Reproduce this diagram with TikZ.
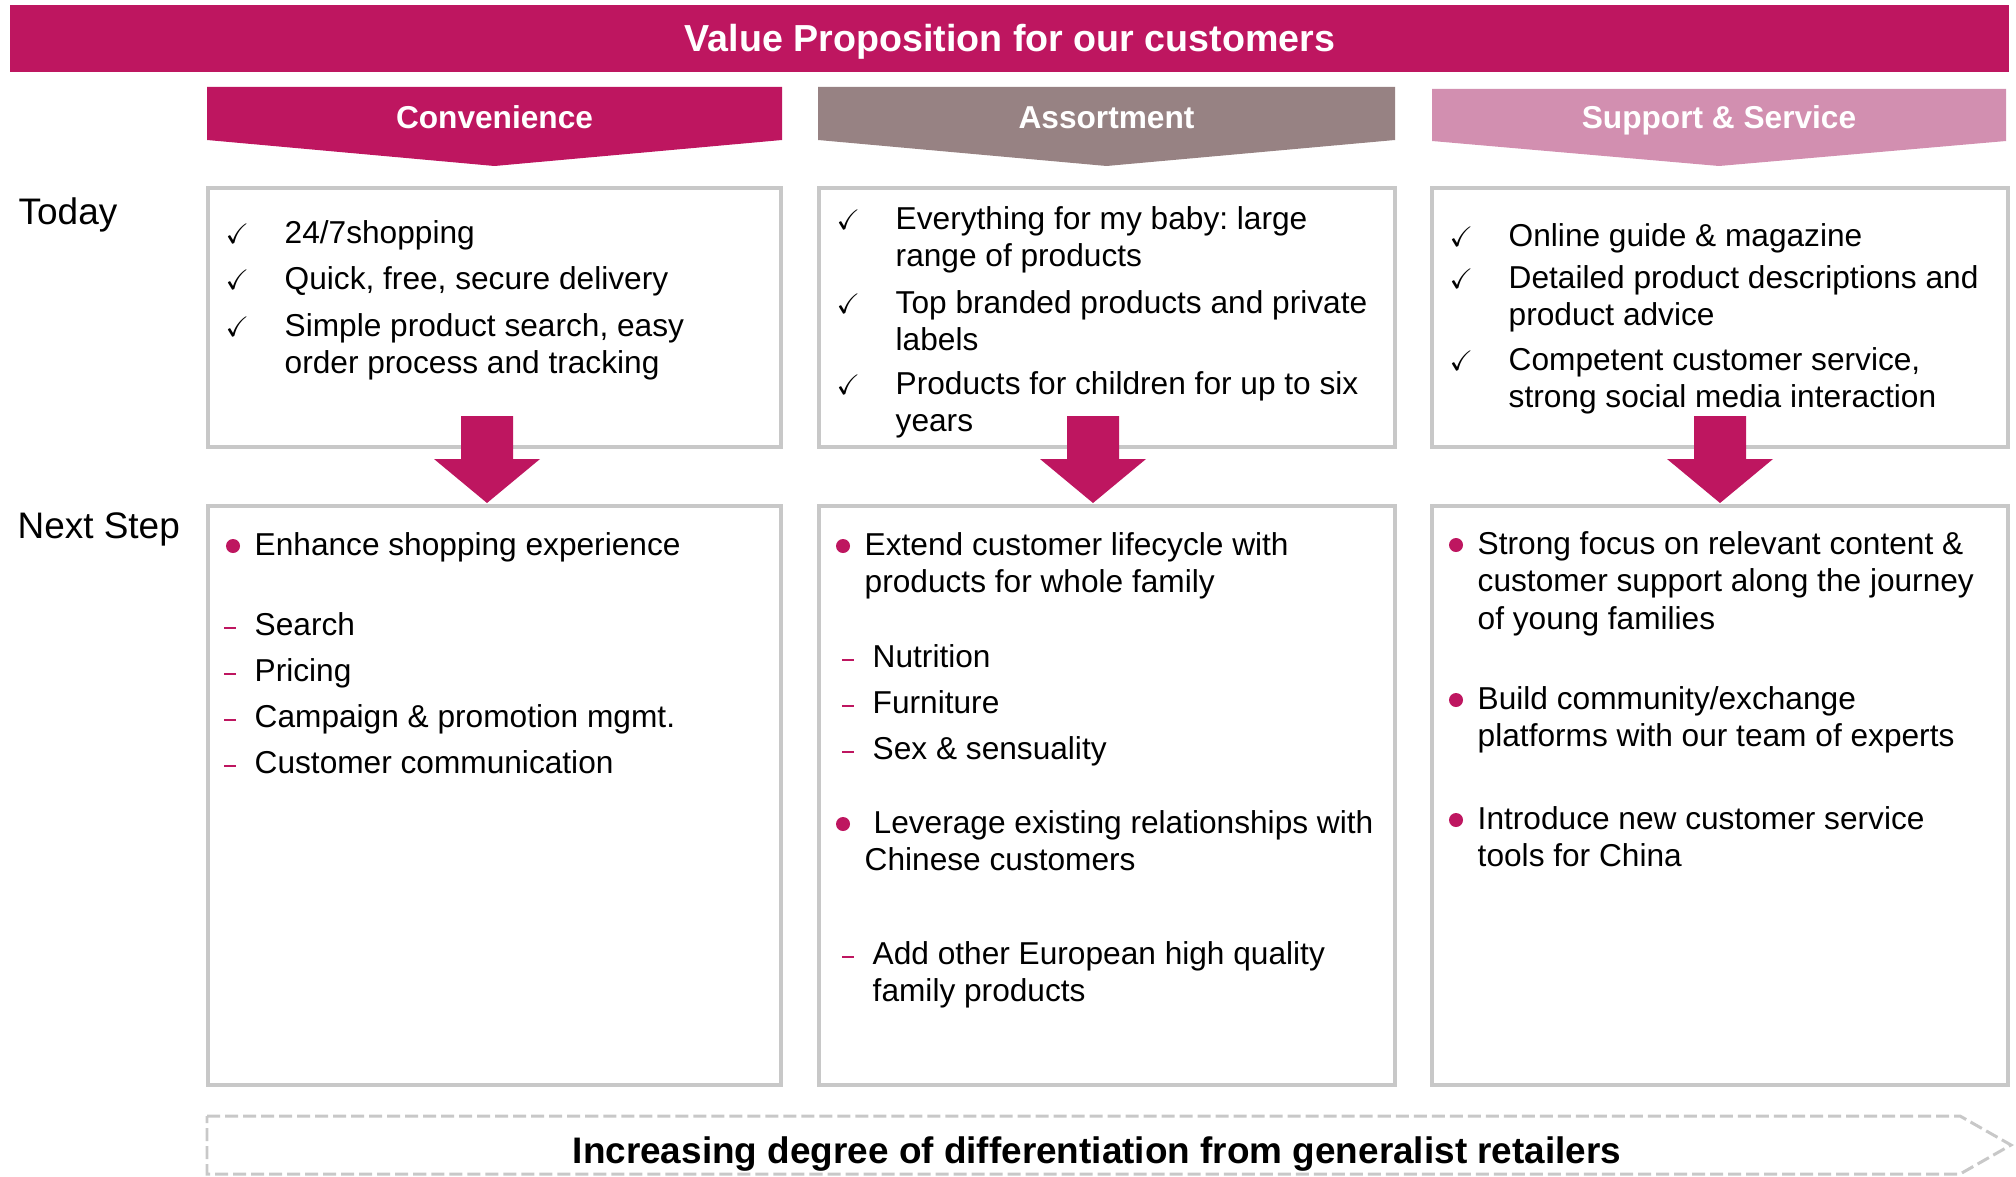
\documentclass[tikz,border=0pt]{standalone}
\usepackage{amssymb}
\usepackage{fontspec}
\setmainfont{Liberation Sans}
\frenchspacing
\usetikzlibrary{positioning}

\definecolor{mag}{RGB}{190,22,96}
\definecolor{mauve}{RGB}{151,130,131}
\definecolor{rosa}{RGB}{210,143,176}
\definecolor{frame}{RGB}{200,200,200}

\tikzset{
  panel/.style={draw=frame, line width=1.1pt},
  tabtext/.style={anchor=base, inner sep=0pt, text=white, font=\fontsize{9}{11}\bfseries\selectfont},
  item/.style={anchor=base west, inner sep=0pt, font=\fontsize{9}{10.7}\selectfont},
  chkmark/.style={anchor=base west, inner sep=0pt, font=\fontsize{8}{9}\selectfont},
  rowlabel/.style={anchor=base west, inner sep=0pt, font=\fontsize{10.5}{12}\selectfont},
}

% #1 name, #2 x of text, #3 first baseline, #4 lines
\newcommand\lines[1]{\begin{tabular}[t]{@{}l@{}}#1\end{tabular}}
\newcommand\tickitem[4]{%
  \node[chkmark] (#1c) at (#2-59,#3) {$\checkmark$};
  \node[item] (#1) at (#2,#3) {\lines{#4}};}
\newcommand\dotitem[4]{%
  \fill[mag] (#2-21,#3-9) circle (0.07cm);
  \node[item] (#1) at (#2,#3) {\lines{#4}};}
\newcommand\dashitem[4]{%
  \draw[mag, line width=0.6pt] (#2-30,#3-7) -- ++(12,0);
  \node[item] (#1) at (#2,#3) {\lines{#4}};}
\newcommand\fatarrow[1]{%
  \fill[mag] (#1-26,416) -- (#1+26,416) -- (#1+26,459) -- (#1+53,459)
    -- (#1,503) -- (#1-53,459) -- (#1-26,459) -- cycle;}

\begin{document}
\begin{tikzpicture}[x=0.01cm, y=-0.01cm]
\useasboundingbox (0,0) rectangle (2016,1176);

\fill[mag] (10,5) rectangle (2009,72);
\node[tabtext, font=\fontsize{10.7}{12}\bfseries\selectfont] (title) at (1010,52) {Value Proposition for our customers};

\fill[mag] (207,87) -- (782,87) -- (782,140) -- (494.5,166) -- (207,140) -- cycle;
\fill[mauve] (818,87) -- (1395,87) -- (1395,140) -- (1106.5,166) -- (818,140) -- cycle;
\fill[rosa] (1432,89) -- (2006,89) -- (2006,141) -- (1719,166) -- (1432,141) -- cycle;
\node[tabtext] (conv) at (494.5,129) {Convenience};
\node[tabtext] (assort) at (1106.5,129) {Assortment};
\node[tabtext] (serv) at (1719,129) {Support \& Service};

\node[rowlabel] (today) at (18,224) {Today};
\node[rowlabel] (next) at (17,538) {Next Step};

\foreach \l/\r in {208/781, 819/1395, 1432/2008} {
  \draw[panel] (\l,188) rectangle (\r,447);
  \draw[panel] (\l,506) rectangle (\r,1085);
}
\fatarrow{487}
\fatarrow{1093}
\fatarrow{1720}

\tickitem{ca}{284}{243}{24/7shopping}
\tickitem{cb}{284}{289}{Quick, free, secure delivery}
\tickitem{cc}{284}{336}{Simple product search, easy\\order process and tracking}

\tickitem{aa}{895}{229}{Everything for my baby: large\\range of products}
\tickitem{ab}{895}{313}{Top branded products and private\\labels}
\tickitem{ac}{895}{394}{Products for children for up to six\\years}

\tickitem{sa}{1508}{246}{Online guide \& magazine}
\tickitem{sb}{1508}{288}{Detailed product descriptions and\\product advice}
\tickitem{sc}{1508}{370}{Competent customer service,\\strong social media interaction}

\dotitem{cn}{254}{555}{Enhance shopping experience}
\dashitem{cn1}{254}{635}{Search}
\dashitem{cn2}{254}{681}{Pricing}
\dashitem{cn3}{254}{727}{Campaign \& promotion mgmt.}
\dashitem{cn4}{254}{773}{Customer communication}

\dotitem{an}{864}{555}{Extend customer lifecycle with\\products for whole family}
\dashitem{an1}{872}{667}{Nutrition}
\dashitem{an2}{872}{713}{Furniture}
\dashitem{an3}{872}{759}{Sex \& sensuality}
\dotitem{am}{864}{833}{\hspace*{0.09cm}Leverage existing relationships with\\Chinese customers}
\dashitem{am1}{872}{964}{Add other European high quality\\family products}

\dotitem{sn}{1477}{554}{Strong focus on relevant content \&\\customer support along the journey\\of young families}
\dotitem{sm}{1477}{709}{Build community/exchange\\platforms with our team of experts}
\dotitem{sl}{1477}{829}{Introduce new customer service\\tools for China}

\draw[frame, line width=0.85pt, dash pattern=on 0.13cm off 0.05cm]
  (207,1116) -- (1960,1116) -- (2011,1145) -- (1960,1174) -- (207,1174) -- cycle;
\node[tabtext, text=black, font=\fontsize{10.5}{12}\bfseries\selectfont] (diff) at (1097,1163) {Increasing degree of differentiation from generalist retailers};
\end{tikzpicture}
\end{document}
